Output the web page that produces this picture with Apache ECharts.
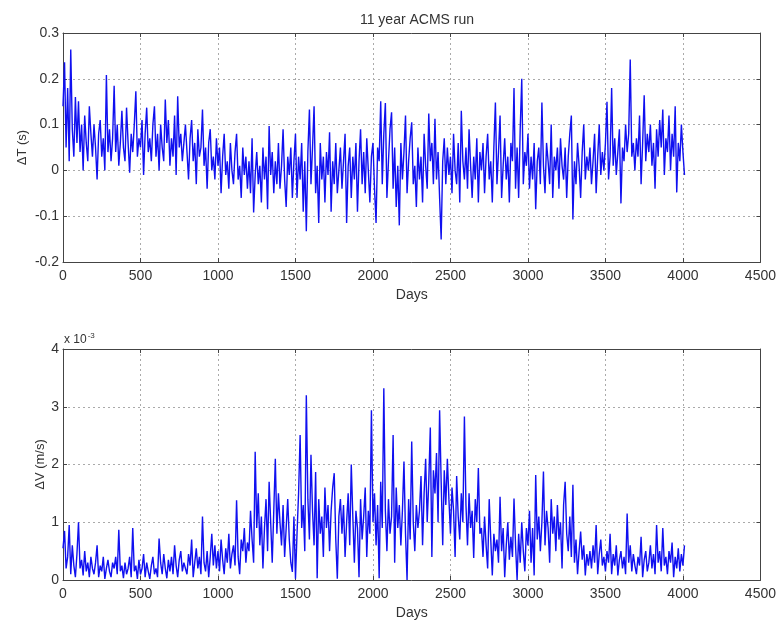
<!DOCTYPE html>
<html>
<head>
<meta charset="utf-8">
<script src="https://cdn.jsdelivr.net/npm/echarts@6/dist/echarts.min.js"></script>
<style>
  html, body { margin: 0; padding: 0; background: #fff; }
  #chart { width: 779px; height: 624px; }
</style>
</head>
<body>
<div id="chart"></div>
<script>
// Sampling interval of the stored record, in days
const DAY_STEP = 10;

// Timing error ΔT (s), one value every DAY_STEP days (rows of 100 days)
const deltaT = [
  0.14, 0.236, 0.05, 0.18, 0.02, 0.264, 0.09, 0.03, 0.16, 0.06,
  0.151, 0.04, 0.1, 0.0, 0.12, 0.06, 0.02, 0.14, 0.08, 0.03,
  0.1, 0.05, -0.02, 0.08, 0.11, 0.03, 0.07, 0.0, 0.208, 0.04,
  0.09, 0.02, 0.07, 0.185, 0.04, 0.1, 0.01, 0.06, 0.13, 0.05,
  0.02, 0.137, 0.06, -0.005, 0.08, 0.04, 0.1, 0.173, 0.03, 0.07,
  0.05, 0.11, -0.01, 0.08, 0.137, 0.04, 0.07, 0.02, 0.1, 0.14,
  0.03, 0.08, 0.0, 0.1, 0.05, 0.02, 0.155, 0.06, 0.11, 0.01,
  0.07, 0.03, 0.12, -0.01, 0.162, 0.05, 0.08, 0.02, 0.06, 0.1,
  0.04, -0.02, 0.07, 0.11, 0.02, 0.06, -0.03, 0.09, 0.03, 0.05,
  0.133, 0.01, 0.05, -0.04, 0.06, 0.09, 0.0, 0.03, -0.02, 0.07,
  0.01, 0.05, -0.05, 0.03, 0.08, -0.01, 0.02, -0.04, 0.06, 0.0,
  -0.03, 0.04, 0.08, -0.02, 0.01, -0.06, 0.05, -0.01, 0.03, -0.04,
  0.02, -0.05, 0.07, -0.092, -0.01, 0.04, -0.03, 0.01, -0.07, 0.05,
  -0.02, 0.03, -0.085, 0.097, -0.01, 0.04, -0.05, 0.02, -0.03, 0.06,
  -0.04, 0.01, 0.09, -0.02, -0.08, 0.03, -0.01, 0.05, -0.06, 0.02,
  0.08, -0.06, 0.03, -0.02, 0.06, -0.09, 0.02, -0.133, 0.04, 0.133,
  -0.03, 0.05, 0.14, -0.05, 0.01, -0.115, 0.06, -0.02, 0.03, -0.07,
  0.04, -0.01, 0.083, -0.09, 0.02, -0.03, 0.06, -0.05, 0.0, 0.05,
  -0.04, 0.02, 0.08, -0.115, 0.01, 0.05, -0.06, 0.03, -0.02, 0.06,
  -0.09, 0.02, 0.09, -0.03, 0.04, -0.05, 0.07, 0.0, -0.07, 0.03,
  0.06, -0.04, -0.115, 0.05, 0.02, 0.151, -0.03, 0.08, 0.147, -0.06,
  0.02, 0.09, 0.127, -0.04, 0.05, -0.08, 0.01, -0.12, 0.06, -0.02,
  0.04, 0.12, -0.05, 0.02, 0.07, 0.105, -0.03, 0.01, -0.08, 0.05,
  -0.02, 0.03, -0.07, 0.08, 0.01, -0.04, 0.124, 0.02, 0.06, -0.03,
  0.113, -0.02, 0.04, -0.06, -0.151, 0.02, 0.07, -0.03, 0.05, -0.01,
  0.03, -0.05, 0.08, 0.0, -0.03, 0.06, -0.07, 0.13, 0.02, -0.02,
  0.05, -0.04, 0.09, 0.01, -0.06, 0.03, -0.02, 0.07, -0.07, 0.04,
  0.0, 0.06, -0.05, 0.03, 0.08, -0.02, 0.02, -0.07, 0.05, 0.148,
  -0.03, 0.04, 0.12, -0.06, 0.01, 0.07, -0.02, 0.03, -0.07, 0.06,
  0.02, 0.18, -0.04, 0.05, -0.06, 0.09, 0.2, -0.03, 0.04, 0.01,
  0.08, -0.04, 0.03, -0.02, 0.06, -0.085, 0.02, 0.05, -0.03, 0.148,
  0.01, -0.05, 0.06, 0.02, -0.03, 0.1, -0.06, 0.03, 0.0, 0.05,
  -0.04, 0.07, 0.01, -0.02, 0.05, -0.06, 0.03, 0.08, 0.12, -0.107,
  0.02, -0.03, 0.06, 0.01, -0.06, 0.04, 0.1, -0.02, 0.03, 0.0,
  0.05, -0.03, 0.02, 0.08, -0.05, 0.03, 0.1, -0.01, 0.04, 0.0,
  0.06, 0.15, -0.02, 0.03, 0.18, 0.01, 0.07, -0.01, 0.04, 0.09,
  -0.072, 0.05, 0.02, 0.1, 0.04, 0.08, 0.242, 0.03, 0.06, 0.0,
  0.07, 0.03, 0.12, -0.03, 0.06, 0.164, 0.02, 0.08, 0.04, 0.1,
  0.01, 0.06, -0.04, 0.09, 0.03, 0.11, 0.05, 0.133, -0.01, 0.07,
  0.04, 0.12, 0.0, 0.08, 0.03, 0.14, -0.048, 0.06, 0.02, 0.1,
  0.04, -0.01
];

// Velocity error ΔV, in units of 1e-3 m/s, same sampling
const deltaV = [
  0.55, 0.85, 0.2, 0.4, 0.95, 0.1, 0.6, 0.25, 0.05, 0.45,
  1.0, 0.2, 0.35, 0.08, 0.5, 0.15, 0.3, 0.05, 0.4, 0.2,
  0.1, 0.3, 0.6, 0.05, 0.25, 0.15, 0.4, 0.02, 0.2, 0.35,
  0.15, 0.05, 0.3, 0.2, 0.4, 0.1, 0.87, 0.15, 0.25, 0.03,
  0.3, 0.1, 0.2, 0.4, 0.05, 0.9, 0.15, 0.25, 0.02, 0.35,
  0.1, 0.2, 0.45, 0.05, 0.3, 0.15, 0.02, 0.25, 0.4, 0.1,
  0.2, 0.05, 0.72, 0.3, 0.1, 0.45, 0.2, 0.03, 0.35, 0.15,
  0.4, 0.1, 0.6, 0.25, 0.05, 0.35, 0.5, 0.15, 0.3, 0.2,
  0.1, 0.45, 0.25, 0.7, 0.05, 0.3, 0.55, 0.2, 0.4, 0.1,
  1.1, 0.3, 0.15, 0.5, 0.05, 0.4, 0.8, 0.25, 0.6, 0.2,
  0.5, 0.15, 0.7, 0.35, 0.1, 0.55, 0.3, 0.8, 0.2, 0.45,
  0.6, 0.25, 1.38, 0.4, 0.1, 0.7, 0.5, 0.9, 0.3, 0.65,
  0.5, 1.2, 0.7, 0.3, 2.22, 0.9, 1.5, 0.6, 1.1, 0.2,
  0.9, 1.4, 0.5, 1.7, 1.0, 0.3, 1.2, 2.1, 0.8, 1.5,
  1.0, 0.6, 1.3, 0.4, 0.9, 1.4, 0.7, 0.3, 0.14, 1.1,
  0.02, 0.8, 1.5, 2.51, 0.9, 1.3, 0.5, 3.2, 1.4, 0.7,
  2.17, 1.2, 0.6, 1.87, 0.03, 1.4, 0.8, 1.1, 0.4, 1.6,
  0.9, 1.3, 0.5, 1.2, 1.6, 1.85, 0.7, 0.02, 1.1, 1.4,
  0.8, 1.3, 0.4, 1.0, 1.5, 0.6, 2.0, 1.1, 0.3, 1.2,
  0.9, 0.05, 1.4, 0.7, 1.1, 1.6, 0.4, 1.2, 0.8, 2.94,
  1.0, 1.5, 0.6, 1.3, 0.03, 1.7, 0.9, 3.32, 1.2, 0.5,
  1.4, 0.8, 1.1, 2.51, 0.3, 1.6, 0.9, 1.3, 0.6, 1.2,
  2.05, 0.8, 0.0, 1.4, 0.7, 2.4, 1.0, 0.5, 1.3, 0.9,
  1.2, 1.8, 0.6, 1.5, 2.1, 1.0, 1.7, 2.64, 0.4, 1.9,
  1.5, 2.2, 1.0, 2.94, 1.7, 0.6, 1.9, 1.3, 2.1, 1.4,
  0.8, 1.6, 1.2, 0.4, 1.8, 1.1, 0.7, 1.5, 1.0, 2.83,
  1.3, 0.6, 1.5, 0.9, 1.2, 0.38, 1.4, 1.0, 1.94, 0.8,
  0.9, 0.4, 1.1, 0.6, 0.2, 1.4, 0.7, 0.08, 0.8, 0.5,
  0.7, 0.3, 1.44, 0.5, 0.9, 0.05, 0.6, 1.0, 0.35, 0.75,
  0.4, 1.41, 0.6, 0.0, 0.8, 0.3, 1.0, 0.5, 0.15, 0.9,
  0.6, 1.2, 0.3, 0.9, 0.08, 1.82, 0.7, 1.1, 0.5, 1.0,
  1.88, 0.6, 1.2, 0.9, 0.3, 1.4, 0.8, 1.1, 0.5, 1.3,
  0.7, 1.0, 0.2, 1.3, 1.7, 0.8, 0.5, 1.1, 0.4, 1.65,
  0.3, 0.7, 0.1, 0.5, 0.84, 0.35, 0.6, 0.08, 0.45, 0.25,
  0.5, 0.2, 0.6, 0.3, 0.95, 0.1, 0.45, 0.7, 0.25, 0.4,
  0.15, 0.5, 0.3, 0.8, 0.1, 0.45, 0.25, 0.6, 0.08, 0.35,
  0.5, 0.2, 0.4, 0.1, 1.15, 0.3, 0.6, 0.15, 0.45, 0.25,
  0.1, 0.4, 0.25, 0.75, 0.05, 0.35, 0.5, 0.15, 0.3, 0.6,
  0.2, 0.45, 0.1, 0.95, 0.3, 0.5, 0.15, 0.9, 0.25, 0.4,
  0.1, 0.5, 0.3, 0.65, 0.05, 0.4, 0.2, 0.55, 0.15, 0.45,
  0.25, 0.6
];

// Axis ranges and tick spacing
const dayAxis = { min: 0, max: 4500, interval: 500 };
const dtAxis = { min: -0.2, max: 0.3, interval: 0.1 };
const dvAxis = { min: 0, max: 4, interval: 1 };

const titleText = '11 year ACMS run';
const xName = 'Days';
const dtName = 'ΔT (s)';
const dvName = 'ΔV (m/s)';

const toPairs = (vals) => vals.map((v, i) => [i * DAY_STEP, v]);

const FONT = 'Liberation Sans, Arial, Helvetica, sans-serif';
const TXT = '#333';
const AX = '#444';
const GRIDLINE = { show: true, lineStyle: { color: '#aaa', type: [2, 3], width: 1 } };

function xAxes(gridIndex) {
  return [
    {
      type: 'value', gridIndex, position: 'bottom',
      min: dayAxis.min, max: dayAxis.max, interval: dayAxis.interval,
      name: xName, nameLocation: 'middle', nameGap: 26, nameMoveOverlap: false,
      nameTextStyle: { fontSize: 14, color: TXT, fontFamily: FONT },
      axisLine: { show: true, onZero: false, lineStyle: { color: AX, width: 1 } },
      axisTick: { show: true, inside: true, length: 4, lineStyle: { color: AX } },
      axisLabel: { fontSize: 14, color: TXT, fontFamily: FONT, margin: 7, formatter: (v) => String(v) },
      splitLine: GRIDLINE
    },
    {
      type: 'value', gridIndex, position: 'top',
      min: dayAxis.min, max: dayAxis.max, interval: dayAxis.interval,
      axisLine: { show: true, onZero: false, lineStyle: { color: AX, width: 1 } },
      axisTick: { show: true, inside: true, length: 4, lineStyle: { color: AX } },
      axisLabel: { show: false },
      splitLine: { show: false }
    }
  ];
}

function yAxes(gridIndex, rng, name, gap) {
  return [
    {
      type: 'value', gridIndex, position: 'left',
      min: rng.min, max: rng.max, interval: rng.interval,
      name, nameLocation: 'middle', nameGap: gap, nameRotate: 90, nameMoveOverlap: false,
      nameTextStyle: { fontSize: 13, color: TXT, fontFamily: FONT },
      axisLine: { show: true, onZero: false, lineStyle: { color: AX, width: 1 } },
      axisTick: { show: true, inside: true, length: 4, lineStyle: { color: AX } },
      axisLabel: {
        fontSize: 14, color: TXT, fontFamily: FONT, margin: 4,
        formatter: (v) => String(Math.round(v * 10) / 10)
      },
      splitLine: GRIDLINE
    },
    {
      type: 'value', gridIndex, position: 'right',
      min: rng.min, max: rng.max, interval: rng.interval,
      axisLine: { show: true, onZero: false, lineStyle: { color: AX, width: 1 } },
      axisTick: { show: true, inside: true, length: 4, lineStyle: { color: AX } },
      axisLabel: { show: false },
      splitLine: { show: false }
    }
  ];
}

const chart = echarts.init(document.getElementById('chart'), null, { renderer: 'canvas' });

chart.setOption({
  animation: false,
  backgroundColor: '#fff',
  title: {
    text: titleText, left: 412, top: 8, textAlign: 'center',
    textStyle: { fontSize: 14, fontWeight: 'normal', color: TXT, fontFamily: FONT }
  },
  graphic: [{
    type: 'text', left: 64, top: 332,
    style: {
      text: '{a|x 10}{b|-3}',
      rich: {
        a: { fontSize: 12, fill: TXT, fontFamily: FONT },
        b: { fontSize: 8, fill: TXT, fontFamily: FONT, verticalAlign: 'top', padding: [0, 0, 8, 1] }
      }
    }
  }],
  grid: [
    { left: 63, top: 33, width: 698, height: 229, show: true, borderWidth: 0, backgroundColor: '#fff' },
    { left: 63, top: 349, width: 698, height: 231, show: true, borderWidth: 0, backgroundColor: '#fff' }
  ],
  xAxis: [...xAxes(0), ...xAxes(1)],
  yAxis: [...yAxes(0, dtAxis, dtName, 34), ...yAxes(1, dvAxis, dvName, 16)],
  series: [
    {
      type: 'line', xAxisIndex: 0, yAxisIndex: 0,
      data: toPairs(deltaT), showSymbol: false, symbol: 'none',
      lineStyle: { color: '#1010f0', width: 1.4 }
    },
    {
      type: 'line', xAxisIndex: 2, yAxisIndex: 2,
      data: toPairs(deltaV), showSymbol: false, symbol: 'none',
      lineStyle: { color: '#1010f0', width: 1.4 }
    }
  ]
});
</script>
</body>
</html>
